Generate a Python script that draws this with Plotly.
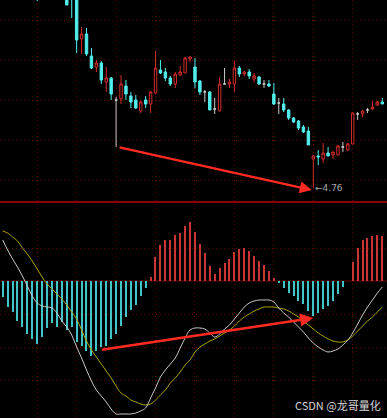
import plotly.graph_objects as go

# ---------------- data ----------------
idx = list(range(78))

open_ = [7.10, 7.05, 7.08, 7.02, 6.94, 6.97, 6.88, 6.84, 6.74, 6.82, 6.88, 6.83, 6.77, 6.80, 6.75,
         6.72, 6.25, 6.30, 6.08, 5.97, 6.01, 5.82, 5.86, 5.64, 5.65, 5.78, 5.68, 5.64, 5.53, 5.64,
         5.60, 5.71, 5.94, 5.92, 5.86, 5.80, 5.89, 5.91, 6.05, 5.97, 5.83, 5.72, 5.72, 5.55, 5.53,
         5.80, 5.80, 5.80, 5.96, 5.90, 5.92, 5.85, 5.87, 5.80, 5.80, 5.70, 5.61, 5.60, 5.54, 5.46,
         5.43, 5.37, 5.33, 5.05, 5.08, 5.05, 5.11, 5.09, 5.09, 5.17, 5.14, 5.20, 5.50, 5.50, 5.54,
         5.55, 5.59, 5.62]
high = [7.18, 7.12, 7.15, 7.06, 7.00, 7.02, 6.95, 6.90, 6.86, 6.92, 6.95, 6.90, 6.84, 6.85, 6.80,
        6.79, 6.37, 6.36, 6.16, 6.04, 6.03, 5.97, 5.87, 5.67, 5.89, 5.84, 5.72, 5.69, 5.63, 5.68,
        5.73, 6.13, 6.04, 5.96, 5.88, 5.92, 5.98, 6.07, 6.08, 6.06, 5.84, 5.74, 5.73, 5.66, 5.87,
        5.96, 5.85, 6.03, 5.98, 5.93, 5.95, 5.91, 5.88, 5.84, 5.84, 5.81, 5.66, 5.66, 5.55, 5.47,
        5.44, 5.39, 5.37, 5.09, 5.14, 5.21, 5.17, 5.12, 5.19, 5.22, 5.21, 5.51, 5.52, 5.54, 5.56,
        5.63, 5.63, 5.66]
low = [7.02, 6.98, 7.00, 6.90, 6.86, 6.85, 6.80, 6.63, 6.70, 6.78, 6.80, 6.74, 6.70, 6.59, 6.46,
       6.11, 6.10, 6.08, 5.95, 5.92, 5.80, 5.72, 5.64, 5.17, 5.60, 5.64, 5.56, 5.55, 5.51, 5.56,
       5.51, 5.70, 5.90, 5.83, 5.78, 5.76, 5.88, 5.91, 6.02, 5.76, 5.69, 5.62, 5.54, 5.50, 5.53,
       5.80, 5.76, 5.72, 5.87, 5.88, 5.85, 5.82, 5.79, 5.76, 5.77, 5.59, 5.50, 5.52, 5.44, 5.41,
       5.34, 5.31, 5.19, 4.76, 4.99, 5.01, 5.08, 5.05, 5.09, 5.12, 5.13, 5.20, 5.44, 5.47, 5.51,
       5.54, 5.58, 5.60]
close = [7.05, 7.08, 7.02, 6.94, 6.97, 6.88, 6.84, 6.72, 6.82, 6.88, 6.83, 6.77, 6.80, 6.59, 6.67,
         6.24, 6.30, 6.10, 5.96, 6.01, 5.84, 5.86, 5.70, 5.64, 5.80, 5.70, 5.62, 5.56, 5.62, 5.60,
         5.72, 5.96, 5.91, 5.86, 5.80, 5.90, 5.92, 6.06, 6.07, 5.82, 5.72, 5.72, 5.54, 5.55, 5.80,
         5.80, 5.82, 5.96, 5.90, 5.92, 5.88, 5.88, 5.80, 5.80, 5.78, 5.60, 5.61, 5.54, 5.46, 5.42,
         5.36, 5.32, 5.19, 5.08, 5.07, 5.11, 5.08, 5.12, 5.18, 5.17, 5.20, 5.51, 5.50, 5.53, 5.54,
         5.57, 5.62, 5.60]

dif = [0.041, 0.031, 0.022, 0.014, 0.005, -0.005, -0.015, -0.022, -0.025, -0.026,
       -0.027, -0.032, -0.040, -0.046, -0.054, -0.066, -0.077, -0.089, -0.100, -0.109,
       -0.115, -0.121, -0.128, -0.133, -0.133, -0.133, -0.133, -0.132, -0.130, -0.127,
       -0.117, -0.107, -0.096, -0.089, -0.083, -0.077, -0.067, -0.057, -0.049, -0.047,
       -0.047, -0.048, -0.052, -0.056, -0.053, -0.048, -0.044, -0.038, -0.032, -0.026,
       -0.022, -0.020, -0.019, -0.019, -0.019, -0.021, -0.027, -0.032, -0.036, -0.041,
       -0.046, -0.051, -0.057, -0.062, -0.066, -0.069, -0.071, -0.070, -0.068, -0.064,
       -0.059, -0.052, -0.043, -0.034, -0.026, -0.019, -0.012, -0.006]
dea = [0.050, 0.048, 0.044, 0.040, 0.033, 0.027, 0.020, 0.012, 0.004, -0.003,
       -0.008, -0.013, -0.018, -0.024, -0.031, -0.038, -0.049, -0.060, -0.069, -0.076,
       -0.083, -0.090, -0.097, -0.105, -0.112, -0.115, -0.119, -0.121, -0.123, -0.124,
       -0.123, -0.119, -0.114, -0.109, -0.102, -0.097, -0.091, -0.084, -0.079, -0.071,
       -0.066, -0.063, -0.060, -0.058, -0.055, -0.052, -0.049, -0.045, -0.040, -0.036,
       -0.033, -0.030, -0.028, -0.026, -0.026, -0.026, -0.027, -0.028, -0.030, -0.033,
       -0.036, -0.040, -0.044, -0.048, -0.052, -0.055, -0.058, -0.060, -0.061, -0.061,
       -0.059, -0.055, -0.050, -0.045, -0.040, -0.036, -0.031, -0.026]
hist = [-0.016, -0.026, -0.031, -0.040, -0.046, -0.053, -0.058, -0.063, -0.056, -0.047,
        -0.042, -0.046, -0.041, -0.049, -0.046, -0.061, -0.065, -0.070, -0.075, -0.070,
        -0.066, -0.065, -0.058, -0.053, -0.045, -0.036, -0.029, -0.024, -0.015, -0.007,
        0.004, 0.024, 0.036, 0.041, 0.041, 0.046, 0.048, 0.055, 0.059, 0.049,
        0.037, 0.028, 0.015, 0.007, 0.013, 0.018, 0.022, 0.029, 0.032, 0.033,
        0.030, 0.025, 0.020, 0.016, 0.010, 0.003, -0.002, -0.007, -0.012, -0.015,
        -0.020, -0.023, -0.030, -0.035, -0.032, -0.028, -0.025, -0.020, -0.013, -0.006,
        0.000, 0.019, 0.033, 0.041, 0.043, 0.045, 0.046, 0.045]

grid_x = [7, 15, 23, 31, 39, 47, 55, 63, 71]
price_grid = [6.44, 6.04, 5.64, 5.24, 4.84]
macd_grid = [0.033, -0.033, -0.066, -0.099]
low_label = "4.76"
watermark = "CSDN @龙哥量化"
div_price = (23, 63)   # candles joined by the price arrow
div_macd = (20, 63)    # histogram bars joined by the MACD arrow

# ---------------- styles ----------------
UP = "#d42c2c"
DOWN = "#52eeee"
DOJI = "#c8c8c8"
GRID = "#640000"

is_doji = [o == c for o, c in zip(open_, close)]


def pick(arr, keep):
    return [v if k else None for v, k in zip(arr, keep)]


normal = [not d for d in is_doji]

fig = go.Figure()

fig.add_trace(go.Candlestick(
    x=idx, open=pick(open_, normal), high=pick(high, normal),
    low=pick(low, normal), close=pick(close, normal),
    increasing=dict(line=dict(color=UP, width=1), fillcolor="#000000"),
    decreasing=dict(line=dict(color=DOWN, width=1), fillcolor=DOWN),
    whiskerwidth=0, showlegend=False, hoverinfo="skip",
    xaxis="x", yaxis="y"))

fig.add_trace(go.Candlestick(
    x=idx, open=pick(open_, is_doji), high=pick(high, is_doji),
    low=pick(low, is_doji), close=pick(close, is_doji),
    increasing=dict(line=dict(color=DOJI, width=1), fillcolor=DOJI),
    decreasing=dict(line=dict(color=DOJI, width=1), fillcolor=DOJI),
    whiskerwidth=0, showlegend=False, hoverinfo="skip",
    xaxis="x", yaxis="y"))

fig.add_trace(go.Bar(
    x=idx, y=hist, width=0.22,
    marker=dict(color=["#c93434" if v >= 0 else "#40c6c6" for v in hist], line=dict(width=0)),
    showlegend=False, hoverinfo="skip", xaxis="x2", yaxis="y2"))

fig.add_trace(go.Scatter(
    x=idx, y=dea, mode="lines", line=dict(color="#aaa600", width=1, shape="spline"),
    showlegend=False, hoverinfo="skip", xaxis="x2", yaxis="y2"))
fig.add_trace(go.Scatter(
    x=idx, y=dif, mode="lines", line=dict(color="#c8c8c8", width=1, shape="spline"),
    showlegend=False, hoverinfo="skip", xaxis="x2", yaxis="y2"))

H = 418.0
xr = [-0.548, 77.95]
axis_common = dict(showticklabels=False, ticks="", showline=False, zeroline=False,
                   showgrid=True, gridcolor=GRID, griddash="1px,3px", gridwidth=1)

fig.update_layout(
    width=387, height=418,
    margin=dict(l=0, r=0, t=0, b=0),
    paper_bgcolor="#000000", plot_bgcolor="#000000",
    showlegend=False,
    xaxis=dict(domain=[0, 1], range=xr, anchor="y", tickmode="array", tickvals=grid_x,
               rangeslider=dict(visible=False), **axis_common),
    yaxis=dict(domain=[1 - 201 / H, 1], range=[4.63, 6.64], anchor="x",
               tickmode="array", tickvals=price_grid, **axis_common),
    xaxis2=dict(domain=[0, 1], range=xr, anchor="y2", matches="x", tickmode="array",
                tickvals=grid_x, rangeslider=dict(visible=False), **axis_common),
    yaxis2=dict(domain=[0, 1 - 204 / H], range=[-0.137, 0.077], anchor="x2",
                tickmode="array", tickvals=macd_grid, **axis_common),
)

# solid zero line of MACD panel and panel separator
fig.add_shape(type="line", xref="paper", x0=0, x1=1, yref="y2", y0=0, y1=0,
              line=dict(color="#6a0000", width=1), layer="below")
fig.add_shape(type="line", xref="paper", x0=0, x1=1, yref="paper",
              y0=1 - 202 / H, y1=1 - 202 / H, line=dict(color="#8c0000", width=2))

# divergence arrows
a, b = div_price
fig.add_annotation(x=b - 0.3, y=low[b] - 0.02, ax=a + 0.4, ay=low[a],
                   xref="x", yref="y", axref="x", ayref="y", text="",
                   showarrow=True, arrowhead=2, arrowsize=1.1, arrowwidth=2.2,
                   arrowcolor="#ff2a22", standoff=0)
a, b = div_macd
fig.add_annotation(x=b, y=hist[b] - 0.002, ax=a - 0.2, ay=hist[a] - 0.003,
                   xref="x2", yref="y2", axref="x2", ayref="y2", text="",
                   showarrow=True, arrowhead=2, arrowsize=1.1, arrowwidth=2.4,
                   arrowcolor="#ff2a22", standoff=0)

# low label
lo_i = low.index(min(low))
fig.add_annotation(x=lo_i, y=low[lo_i], xref="x", yref="y", text="←" + low_label,
                   showarrow=False, xanchor="left", yanchor="middle", xshift=0,
                   font=dict(family="DejaVu Sans", size=9, color="#a8a8a8"))

# watermark
fig.add_annotation(x=0.99, y=1 - 405 / H, xref="paper", yref="paper", text=watermark,
                   showarrow=False, xanchor="right", yanchor="middle",
                   font=dict(family="Noto Sans CJK SC", size=11, color="#d6d6d6"))

fig.write_html(
    "out.html",
    config={"displayModeBar": False},
    post_script="document.body.style.margin='0';document.body.style.padding='0';"
                "document.body.style.overflow='hidden';document.body.style.background='#000';")
